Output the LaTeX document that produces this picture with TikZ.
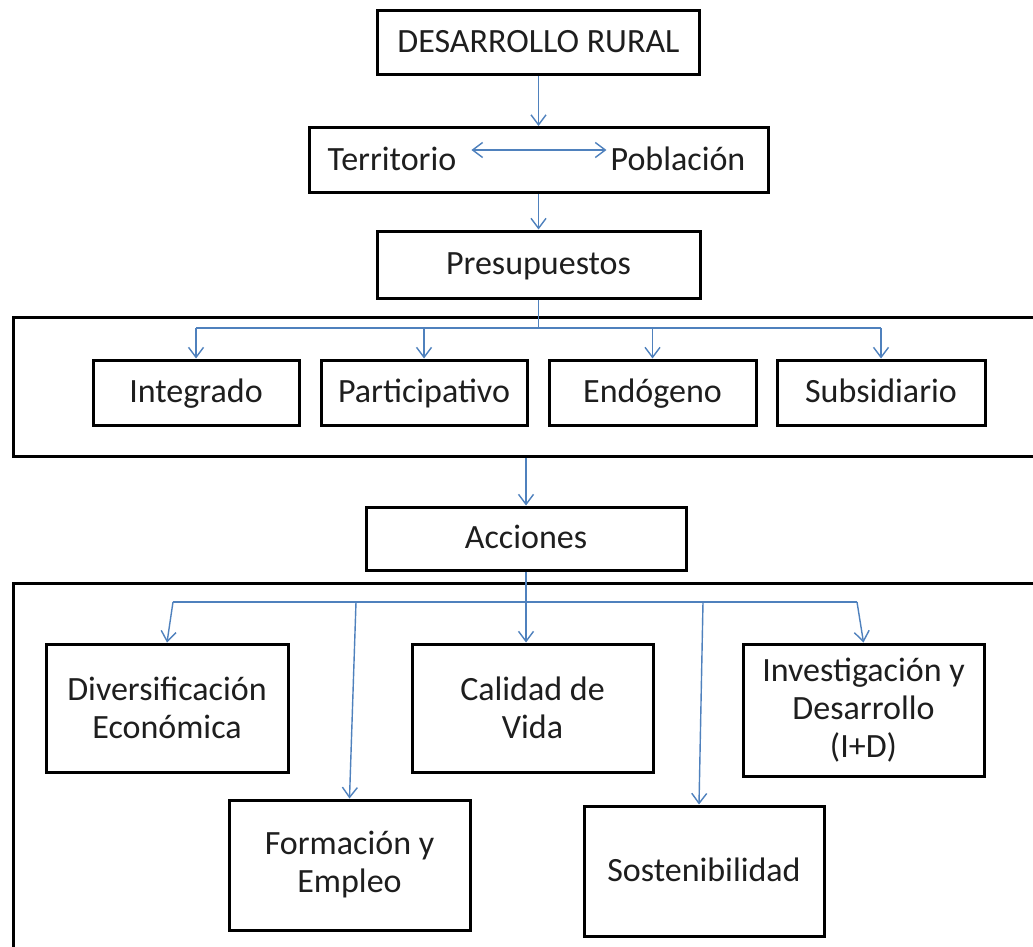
\documentclass[tikz,border=0pt]{standalone}
\usepackage{fontspec}
\setmainfont{Carlito}
\usetikzlibrary{arrows.meta,calc}
\definecolor{linkblue}{RGB}{79,129,189}
\definecolor{txt}{RGB}{30,30,30}
\begin{document}
\begin{tikzpicture}[x=1pt,y=-1pt,
  box/.style={draw=black, line width=3pt, inner sep=0pt, align=center, text=txt,
    font=\fontsize{34}{38}\selectfont},
  onebox/.style={box, text height=26pt, text depth=6pt},
  plain/.style={inner sep=0pt, text=txt, font=\fontsize{34}{38}\selectfont, text height=26pt, text depth=6pt},
  frame/.style={draw=black, line width=3pt, inner sep=0pt},
  link/.style={draw=linkblue, line width=1.4pt},
  arr/.style={link, -{Straight Barb[length=10pt,width=15pt,line width=1.4pt]}},
  dbl/.style={link, {Straight Barb[length=10pt,width=15pt,line width=1.4pt]}-{Straight Barb[length=10pt,width=15pt,line width=1.4pt]}}]
\useasboundingbox (0,0) rectangle (1033,947);
\fill[white] (0,0) rectangle (1033,947);
\clip (0,0) rectangle (1033,947);

% top chain
\node[onebox, minimum width=322pt, minimum height=64pt] (dr) at (538.5,43) {DESARROLLO RURAL};
\node[box, minimum width=459pt, minimum height=65pt] (tp) at (538.5,160) {};
\node[plain] (terr) at (392,160) {Territorio};
\node[plain] (pob) at (678,160) {Población};
\node[onebox, minimum width=323pt, minimum height=67pt] (pre) at (538.5,264.5) {Presupuestos};

\draw[arr] (dr.south) -- (tp.north);
\draw[dbl] ([xshift=15pt,yshift=10pt]terr.east) -- ([xshift=-4pt,yshift=10pt]pob.west);
\draw[arr] (tp.south) -- (pre.north);

% first container
\node[frame, minimum width=1040pt, minimum height=139pt, anchor=north west] (cont1) at (12,316) {};
\node[onebox, minimum width=206pt, minimum height=65pt] (integ) at (196,392.5) {Integrado};
\node[onebox, minimum width=206pt, minimum height=65pt] (partic) at (424,392.5) {Participativo};
\node[onebox, minimum width=207pt, minimum height=65pt] (endo) at (652.5,392.5) {Endógeno};
\node[onebox, minimum width=208pt, minimum height=65pt] (subs) at (881,392.5) {Subsidiario};

\coordinate (h1) at (538.5,328);
\draw[link] (pre.south) -- (h1);
\draw[link] (integ.north |- h1) -- (subs.north |- h1);
\foreach \n in {integ,partic,endo,subs}
  \draw[arr] (\n.north |- h1) -- (\n.north);

% acciones
\node[onebox, minimum width=320pt, minimum height=63pt] (acc) at (526,538.5) {Acciones};
\draw[arr, line width=2pt] (acc.north |- cont1.south) -- (acc.north);

% second container
\node[frame, minimum width=1040pt, minimum height=400pt, anchor=north west] (cont2) at (12,582) {};
\node[box, minimum width=242pt, minimum height=128pt] (diver) at (167,708) {Diversificación\\Económica};
\node[box, minimum width=241pt, minimum height=128pt] (cal) at (532.5,708) {Calidad de\\Vida};
\node[box, minimum width=241pt, minimum height=132pt] (inv) at (863.5,710) {Investigación y\\Desarrollo\\(I+D)};
\node[box, minimum width=241pt, minimum height=130pt] (form) at (349.5,865) {Formación y\\Empleo};
\node[onebox, minimum width=240pt, minimum height=130pt] (sost) at (704,871) {Sostenibilidad};

\coordinate (h2) at (526,602);
\coordinate (bd) at (173,602);
\coordinate (bf) at (356,602);
\coordinate (bs) at (703,602);
\coordinate (bi) at (857,602);
\draw[link] (acc.south) -- (h2);
\draw[link] (bd) -- (bi);
\draw[arr] (bd) -- (diver.north);
\draw[arr] (bf) -- (form.north);
\draw[arr] (h2) -- (h2 |- cal.north);
\draw[arr] (bs) -- ([xshift=-5pt]sost.north);
\draw[arr] (bi) -- (inv.north);
\end{tikzpicture}
\end{document}
